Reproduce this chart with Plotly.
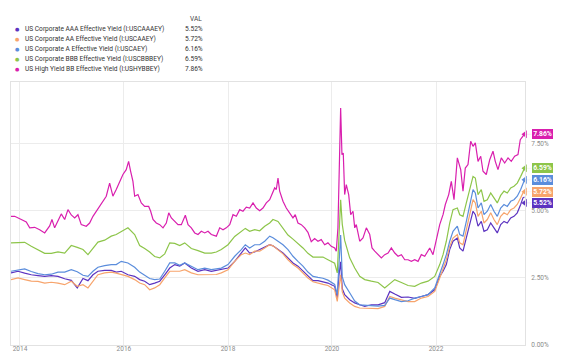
import numpy as np
import pandas as pd
import plotly.graph_objects as go

# ---------------- data ----------------
series_names = [
    "US Corporate AAA Effective Yield (I:USCAAAEY)",
    "US Corporate AA Effective Yield (I:USCAAEY)",
    "US Corporate A Effective Yield (I:USCAEY)",
    "US Corporate BBB Effective Yield (I:USCBBBEY)",
    "US High Yield BB Effective Yield (I:USHYBBEY)",
]
series_colors = ["#5c33c0", "#f7a46c", "#5b8ddc", "#8dc54a", "#d91fae"]

# decimal-year time stamps shared by the four investment-grade series
t_ig = [
    2013.827, 2013.962, 2014.090, 2014.217, 2014.346, 2014.475, 2014.602, 2014.731, 2014.860, 2014.987,
    2015.102, 2015.212, 2015.308, 2015.404, 2015.500, 2015.629, 2015.756, 2015.852, 2015.948, 2016.077,
    2016.206, 2016.302, 2016.398, 2016.494, 2016.590, 2016.687, 2016.783, 2016.879, 2016.975, 2017.071,
    2017.167, 2017.294, 2017.423, 2017.552, 2017.679, 2017.775, 2017.871, 2018.000, 2018.129, 2018.256,
    2018.333, 2018.417, 2018.513, 2018.610, 2018.706, 2018.802, 2018.865, 2018.962, 2019.058, 2019.154,
    2019.250, 2019.346, 2019.442, 2019.538, 2019.635, 2019.731, 2019.827, 2019.923, 2020.052, 2020.102,
    2020.135, 2020.167, 2020.198, 2020.244, 2020.340, 2020.437, 2020.533, 2020.629, 2020.756, 2020.885,
    2021.013, 2021.110, 2021.206, 2021.333, 2021.462, 2021.590, 2021.717, 2021.846, 2021.975, 2022.071,
    2022.135, 2022.198, 2022.263, 2022.327, 2022.410, 2022.456, 2022.519, 2022.583, 2022.648, 2022.712,
    2022.756, 2022.808, 2022.871, 2022.923, 2022.987, 2023.052, 2023.115, 2023.179, 2023.244, 2023.308,
    2023.371, 2023.437, 2023.500, 2023.563, 2023.629, 2023.673, 2023.702,
]

aaa = [
    2.69, 2.75, 2.68, 2.62, 2.59, 2.56, 2.59, 2.56, 2.47, 2.41,
    2.13, 2.48, 2.40, 2.62, 2.75, 2.78, 2.78, 2.72, 2.75, 2.62,
    2.56, 2.44, 2.38, 2.25, 2.31, 2.38, 2.62, 2.87, 3.00, 2.94,
    3.06, 2.87, 2.75, 2.81, 2.75, 2.78, 2.81, 2.87, 3.12, 3.43,
    3.62, 3.43, 3.47, 3.56, 3.65, 3.74, 3.70, 3.56, 3.43, 3.25,
    3.06, 2.94, 2.75, 2.56, 2.40, 2.40, 2.36, 2.31, 2.19, 1.75,
    2.60, 3.10, 2.10, 1.88, 1.69, 1.57, 1.50, 1.44, 1.50, 1.50,
    1.58, 2.00, 1.90, 1.78, 1.79, 1.74, 1.81, 1.88, 2.06, 2.56,
    2.75, 3.00, 3.56, 3.87, 3.99, 3.62, 3.50, 3.99, 4.55, 4.99,
    4.86, 4.43, 4.61, 4.24, 4.30, 4.55, 4.37, 4.18, 4.49, 4.61,
    4.55, 4.74, 4.80, 4.93, 5.24, 5.49, 5.52,
]

aa = [
    2.44, 2.50, 2.44, 2.38, 2.37, 2.31, 2.34, 2.31, 2.25, 2.38,
    2.19, 2.25, 2.13, 2.38, 2.62, 2.69, 2.72, 2.68, 2.62, 2.56,
    2.44, 2.31, 2.25, 2.06, 2.13, 2.25, 2.50, 2.75, 2.75, 2.75,
    2.81, 2.69, 2.62, 2.62, 2.62, 2.63, 2.69, 2.81, 3.12, 3.37,
    3.43, 3.37, 3.50, 3.50, 3.62, 3.74, 3.70, 3.56, 3.40, 3.18,
    3.00, 2.87, 2.69, 2.50, 2.36, 2.30, 2.26, 2.22, 2.06, 1.63,
    2.20, 2.62, 1.98, 1.75, 1.57, 1.44, 1.38, 1.38, 1.38, 1.36,
    1.44, 1.81, 1.75, 1.69, 1.62, 1.62, 1.75, 1.81, 2.00, 2.50,
    2.81, 3.18, 3.68, 3.99, 4.12, 3.81, 3.74, 4.30, 4.86, 5.42,
    5.30, 4.80, 4.99, 4.55, 4.68, 4.93, 4.68, 4.49, 4.80, 4.93,
    4.86, 5.05, 5.11, 5.24, 5.49, 5.67, 5.72,
]

a_grade = [
    2.75, 2.81, 2.84, 2.74, 2.66, 2.62, 2.64, 2.72, 2.72, 2.81,
    2.73, 2.60, 2.56, 2.75, 2.90, 2.96, 3.00, 3.00, 3.12, 3.06,
    2.90, 2.72, 2.60, 2.48, 2.44, 2.46, 2.75, 3.06, 3.06, 2.97,
    3.06, 2.94, 2.81, 2.87, 2.81, 2.84, 2.87, 3.00, 3.31, 3.56,
    3.74, 3.62, 3.74, 3.74, 3.87, 4.06, 4.00, 3.87, 3.74, 3.56,
    3.31, 3.12, 2.94, 2.72, 2.56, 2.52, 2.49, 2.42, 2.26, 1.88,
    3.00, 4.10, 2.55, 2.25, 1.95, 1.64, 1.50, 1.48, 1.47, 1.45,
    1.48, 1.75, 1.69, 1.62, 1.65, 1.75, 1.81, 1.88, 2.13, 2.62,
    3.00, 3.37, 3.87, 4.24, 4.43, 4.12, 4.06, 4.61, 5.24, 5.80,
    5.67, 5.11, 5.30, 4.86, 4.99, 5.24, 4.99, 4.80, 5.11, 5.24,
    5.17, 5.36, 5.42, 5.55, 5.80, 6.04, 6.16,
]

bbb = [
    3.81, 3.81, 3.83, 3.68, 3.56, 3.42, 3.42, 3.47, 3.43, 3.71,
    3.64, 3.56, 3.37, 3.60, 3.84, 3.91, 4.06, 4.12, 4.24, 4.37,
    4.12, 3.71, 3.60, 3.47, 3.30, 3.25, 3.40, 3.81, 3.79, 3.71,
    3.81, 3.60, 3.52, 3.43, 3.43, 3.47, 3.56, 3.74, 4.05, 4.24,
    4.35, 4.24, 4.30, 4.26, 4.43, 4.55, 4.68, 4.61, 4.37, 4.10,
    3.95, 3.80, 3.62, 3.42, 3.28, 3.28, 3.28, 3.18, 3.05, 2.69,
    3.99, 5.42, 4.50, 3.90, 3.25, 2.87, 2.56, 2.44, 2.38, 2.33,
    2.13, 2.30, 2.44, 2.33, 2.22, 2.19, 2.31, 2.38, 2.56, 3.00,
    3.37, 3.87, 4.55, 5.05, 5.11, 4.86, 4.80, 5.30, 5.86, 6.29,
    6.23, 5.61, 5.80, 5.36, 5.42, 5.67, 5.49, 5.30, 5.58, 5.74,
    5.67, 5.86, 5.92, 6.04, 6.29, 6.48, 6.59,
]

# high-yield BB series has its own (finer) time stamps
t_bb = [
    2013.827, 2013.898, 2014.025, 2014.121, 2014.187, 2014.283, 2014.379, 2014.475, 2014.571, 2014.615,
    2014.667, 2014.731, 2014.794, 2014.860, 2014.923, 2014.987, 2015.052, 2015.115, 2015.179, 2015.275,
    2015.340, 2015.404, 2015.467, 2015.533, 2015.596, 2015.660, 2015.725, 2015.788, 2015.852, 2015.917,
    2015.981, 2016.044, 2016.090, 2016.129, 2016.173, 2016.206, 2016.269, 2016.333, 2016.398, 2016.475,
    2016.513, 2016.558, 2016.621, 2016.687, 2016.750, 2016.813, 2016.860, 2016.910, 2016.975, 2017.038,
    2017.102, 2017.179, 2017.231, 2017.294, 2017.360, 2017.423, 2017.487, 2017.552, 2017.615, 2017.679,
    2017.775, 2017.840, 2017.904, 2017.967, 2018.033, 2018.096, 2018.160, 2018.225, 2018.288, 2018.352,
    2018.417, 2018.481, 2018.544, 2018.610, 2018.673, 2018.737, 2018.802, 2018.846, 2018.898, 2018.929,
    2018.962, 2018.994, 2019.058, 2019.121, 2019.187, 2019.250, 2019.294, 2019.346, 2019.410, 2019.475,
    2019.538, 2019.602, 2019.667, 2019.731, 2019.794, 2019.860, 2019.923, 2019.987, 2020.052, 2020.083,
    2020.115, 2020.148, 2020.167, 2020.192, 2020.217, 2020.244, 2020.275, 2020.321, 2020.360, 2020.404,
    2020.437, 2020.467, 2020.533, 2020.596, 2020.660, 2020.725, 2020.769, 2020.821, 2020.885, 2020.948,
    2021.013, 2021.077, 2021.140, 2021.206, 2021.269, 2021.333, 2021.398, 2021.462, 2021.525, 2021.590,
    2021.654, 2021.717, 2021.783, 2021.846, 2021.879, 2021.942, 2022.006, 2022.071, 2022.135, 2022.179,
    2022.244, 2022.294, 2022.346, 2022.410, 2022.475, 2022.519, 2022.563, 2022.615, 2022.667, 2022.712,
    2022.756, 2022.808, 2022.860, 2022.904, 2022.967, 2023.033, 2023.096, 2023.140, 2023.192, 2023.256,
    2023.321, 2023.385, 2023.448, 2023.513, 2023.577, 2023.621, 2023.673, 2023.702,
]

bb = [
    4.80, 4.80, 4.68, 4.59, 4.37, 4.39, 4.30, 4.18, 4.44, 4.68,
    4.37, 4.63, 4.89, 4.68, 5.05, 4.85, 4.74, 4.86, 4.49, 4.43,
    4.55, 4.80, 4.99, 5.17, 5.34, 5.55, 6.04, 5.55, 5.80, 6.10,
    6.36, 6.54, 6.85, 6.48, 6.10, 5.55, 5.61, 5.30, 5.17, 5.17,
    4.99, 4.68, 4.55, 4.49, 4.37, 4.55, 4.93, 4.74, 4.61, 4.49,
    4.49, 4.84, 4.49, 4.37, 4.18, 4.12, 4.24, 4.18, 4.24, 4.12,
    4.06, 4.37, 4.30, 4.37, 4.49, 4.86, 4.80, 5.05, 4.99, 5.14,
    5.11, 5.30, 5.11, 5.01, 5.11, 5.30, 5.42, 5.61, 5.86, 5.80,
    6.23, 5.74, 5.36, 5.11, 4.93, 4.74, 4.86, 4.55, 4.49, 4.37,
    4.20, 3.85, 3.97, 3.87, 3.93, 3.74, 3.81, 3.68, 3.62, 3.50,
    4.37, 7.10, 8.84, 7.10, 7.16, 5.61, 5.98, 5.61, 4.86, 4.99,
    4.37, 4.49, 3.87, 3.99, 4.37, 4.12, 3.62, 3.50, 3.37, 3.25,
    3.37, 3.43, 3.62, 3.43, 3.31, 3.37, 3.18, 3.18, 3.12, 3.18,
    3.12, 3.37, 3.31, 3.50, 3.62, 3.37, 3.87, 4.49, 4.86, 5.24,
    5.61, 6.10, 5.42, 6.98, 6.54, 5.74, 6.60, 6.73, 7.60, 7.41,
    7.54, 6.85, 7.04, 6.48, 6.36, 6.91, 7.23, 6.85, 6.54, 6.98,
    6.79, 6.98, 6.85, 7.04, 7.10, 7.66, 7.79, 7.86,
]

x_range_years = [2013.827, 2023.712]
x_tick_years = [2014, 2016, 2018, 2020, 2022]
y_ticks = [0.0, 2.5, 5.0, 7.5]
y_range = [0.0, 9.81]

assert len(t_ig) == len(aaa) == len(aa) == len(a_grade) == len(bbb)
assert len(t_bb) == len(bb)


def to_date(t):
    y = int(np.floor(t))
    start = pd.Timestamp(year=y, month=1, day=1)
    end = pd.Timestamp(year=y + 1, month=1, day=1)
    return start + (end - start) * (t - y)


dates_ig = [to_date(t) for t in t_ig]
dates_bb = [to_date(t) for t in t_bb]

series_x = [dates_ig, dates_ig, dates_ig, dates_ig, dates_bb]
series_y = [aaa, aa, a_grade, bbb, bb]

# ---------------- figure ----------------
W, H = 568, 359
ML, MR, MT, MB = 3, 51, 74, 22
fig = go.Figure()

for name, color, xs, ys in zip(series_names, series_colors, series_x, series_y):
    fig.add_trace(go.Scatter(
        x=xs, y=ys, mode="lines", name=name,
        line=dict(color=color, width=1.2),
        showlegend=False, hoverinfo="skip",
    ))

font_family = "Roboto, 'Open Sans', Arial, sans-serif"
grid_col = "#ececec"

fig.update_layout(
    width=W, height=H,
    margin=dict(l=ML, r=MR, t=MT, b=MB, pad=0),
    paper_bgcolor="white", plot_bgcolor="white",
    font=dict(family=font_family, color="#333333"),
    xaxis=dict(
        type="date",
        range=[to_date(x_range_years[0]), to_date(x_range_years[1])],
        tickvals=[to_date(y) for y in x_tick_years],
        ticktext=[str(y) for y in x_tick_years],
        showgrid=True, gridcolor=grid_col, gridwidth=1,
        showline=True, linecolor="#e2e2e2", linewidth=1, mirror=True,
        ticks="", ticklabelstandoff=-3,
        tickfont=dict(size=6.5, color="#8a8a8a"),
        zeroline=False, fixedrange=True,
    ),
    yaxis=dict(
        side="right",
        range=y_range,
        tickvals=y_ticks,
        ticktext=["%.2f%%" % v for v in y_ticks],
        showgrid=True, gridcolor=grid_col, gridwidth=1,
        showline=True, linecolor="#e2e2e2", linewidth=1, mirror=True,
        ticks="", ticklabelstandoff=4,
        tickfont=dict(size=6.5, color="#8a8a8a"),
        zeroline=False, fixedrange=True,
    ),
)

plot_w = W - ML - MR
plot_h = H - MT - MB


def px_to_paper_x(px):
    return (px - ML) / plot_w


def px_to_paper_y(py):
    return (H - MB - py) / plot_h


annotations = []
# header "VAL"
annotations.append(dict(
    xref="paper", yref="paper", x=px_to_paper_x(196), y=px_to_paper_y(10.5),
    text="VAL", showarrow=False, xanchor="right", yanchor="middle",
    font=dict(size=6.5, color="#444444", family=font_family),
))
last_vals = [ys[-1] for ys in series_y]
for i, (name, color, val) in enumerate(zip(series_names, series_colors, last_vals)):
    row_y = 20.7 + i * 10.15
    annotations.append(dict(
        xref="paper", yref="paper", x=px_to_paper_x(9), y=px_to_paper_y(row_y),
        text="●", showarrow=False, xanchor="center", yanchor="middle",
        font=dict(size=5, color=color, family="DejaVu Sans"),
    ))
    annotations.append(dict(
        xref="paper", yref="paper", x=px_to_paper_x(15), y=px_to_paper_y(row_y),
        text=name, showarrow=False, xanchor="left", yanchor="middle",
        font=dict(size=6.6, color="#333333", family=font_family),
    ))
    annotations.append(dict(
        xref="paper", yref="paper", x=px_to_paper_x(196.5), y=px_to_paper_y(row_y),
        text="%.2f%%" % val, showarrow=False, xanchor="right", yanchor="middle",
        font=dict(size=6.6, color="#333333", family=font_family),
    ))

# value tags on the right, spread apart so they do not overlap
order = sorted(range(len(last_vals)), key=lambda k: -last_vals[k])
min_gap = 0.42
tag_pos = {}
prev = None
for k in order:
    pos = last_vals[k]
    if prev is not None and prev - pos < min_gap:
        pos = prev - min_gap
    tag_pos[k] = pos
    prev = pos

for k in range(len(last_vals)):
    annotations.append(dict(
        xref="paper", yref="y", x=1.0, y=tag_pos[k],
        text="<b>%.2f%%</b>" % last_vals[k],
        showarrow=True, arrowhead=0, arrowwidth=0.1, arrowcolor=series_colors[k],
        ax=17, ay=0, axref="pixel", ayref="pixel",
        xanchor="center", yanchor="middle",
        bgcolor=series_colors[k], borderpad=1.2, borderwidth=0,
        font=dict(size=6.8, color="white", family=font_family),
    ))
fig.update_layout(annotations=annotations)

# little pointer triangles of the tags
for k in range(len(last_vals)):
    fig.add_trace(go.Scatter(
        x=[to_date(x_range_years[1])], y=[tag_pos[k]], mode="markers",
        marker=dict(symbol="triangle-left", size=7, color=series_colors[k],
                    line=dict(width=0)),
        cliponaxis=False, showlegend=False, hoverinfo="skip",
    ))

fig.write_html("out.html")
